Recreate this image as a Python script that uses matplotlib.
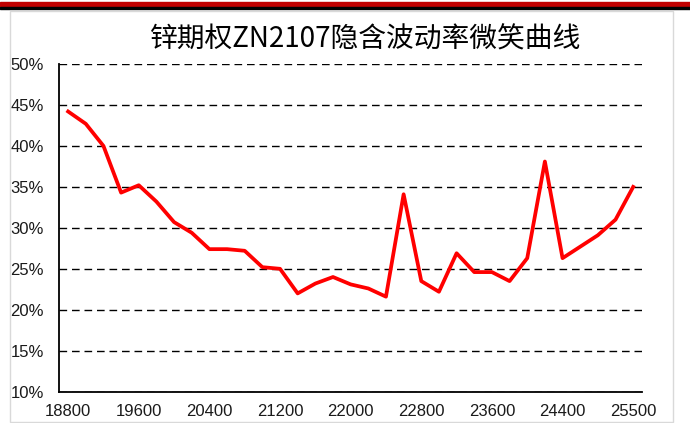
import matplotlib.pyplot as plt
from matplotlib.patches import Rectangle
from matplotlib.ticker import PercentFormatter

plt.rcParams['font.family'] = ['Liberation Sans', 'Noto Sans CJK SC', 'DejaVu Sans']

# strike prices (category axis), only every 4th is labelled
strikes = [str(s) for s in range(18800, 24401, 200)] + ['24600', '24800', '25000', '25500']
# implied volatility, %
iv = [44.2, 42.7, 40.0, 34.3, 35.2, 33.2, 30.7, 29.4, 27.4, 27.4,
      27.2, 25.2, 25.0, 22.0, 23.2, 24.0, 23.1, 22.6, 21.6, 34.1,
      23.5, 22.2, 26.9, 24.6, 24.6, 23.5, 26.3, 38.1, 26.3, 27.7,
      29.1, 31.0, 35.0]
title = "锌期权ZN2107隐含波动率微笑曲线"

W, H = 690, 423
fig = plt.figure(figsize=(W / 100, H / 100), dpi=100)

# top banner and grey frame
fig.patches.append(Rectangle((0, 1 - 7 / H), 1, 5 / H, transform=fig.transFigure,
                             color='#C00000', zorder=0))
fig.patches.append(Rectangle((0, 1 - 8.7 / H), 1, 1.7 / H, transform=fig.transFigure,
                             color='black', zorder=0))
fig.patches.append(Rectangle((10 / W, 1 - 421.5 / H), 662.5 / W, 410.5 / H,
                             transform=fig.transFigure, fill=False,
                             edgecolor='#D9D9D9', lw=1, zorder=0))

ax = fig.add_axes([59.3 / W, 1 - 391.7 / H, (642 - 59.3) / W, (391.7 - 64) / H])
x = list(range(len(strikes)))
ax.plot(x, iv, color='#FF0000', lw=2.7, zorder=3)

ax.set_xlim(-0.5, len(strikes) - 0.5)
ax.set_ylim(10, 50)
ax.set_yticks(range(10, 51, 5))
ax.yaxis.set_major_formatter(PercentFormatter(decimals=0))
ax.set_xticks(x[::4])
ax.set_xticklabels(strikes[::4])

ax.grid(axis='y', color='black', linestyle=(0, (5.5, 3.5)), lw=1)
ax.set_axisbelow(True)
for s in ['top', 'right']:
    ax.spines[s].set_visible(False)
for s in ['left', 'bottom']:
    ax.spines[s].set_linewidth(1.3)
ax.tick_params(axis='both', length=0, labelsize=12, colors='#1a1a1a')
ax.tick_params(axis='y', pad=11)
ax.tick_params(axis='x', pad=9)

fig.text(366 / W, 1 - 39 / H, title, ha='center', va='center', fontsize=20,
         family=['Noto Sans CJK SC', 'DejaVu Sans'])

fig.savefig('out.png', dpi=100)
